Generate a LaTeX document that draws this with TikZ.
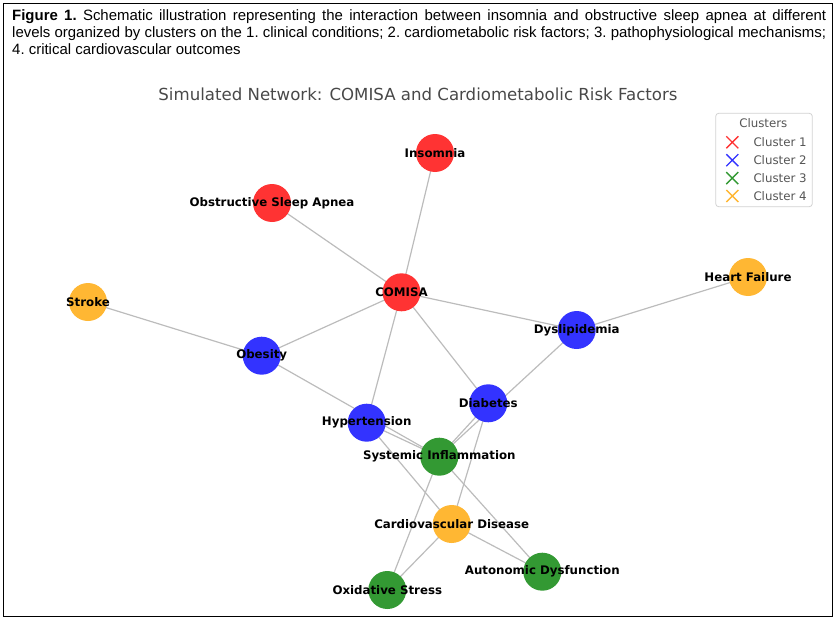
\documentclass[tikz,border=0pt]{standalone}
\usepackage{fontspec}
\setmainfont{Liberation Sans}
\newfontfamily\dv{DejaVu Sans}
\usetikzlibrary{backgrounds}
\definecolor{cred}{RGB}{255,51,51}
\definecolor{cblue}{RGB}{51,51,255}
\definecolor{cgreen}{RGB}{51,153,51}
\definecolor{corange}{RGB}{255,183,51}
\definecolor{edgegray}{RGB}{188,188,188}
\definecolor{titlegray}{RGB}{72,72,72}
\definecolor{leggray}{RGB}{85,85,85}
\definecolor{legborder}{RGB}{210,210,210}
\tikzset{
  vert/.style={circle, minimum size=38pt, inner sep=0pt, draw=none},
  c1/.style={vert, fill=cred},
  c2/.style={vert, fill=cblue},
  c3/.style={vert, fill=cgreen},
  c4/.style={vert, fill=corange},
  lbl/.style={font=\dv\bfseries\fontsize{11.8}{13}\selectfont, text=black, inner sep=0pt},
  link/.style={draw=edgegray, line width=1.2pt},
  xmark/.style={line width=1.4pt},
  legtext/.style={font=\dv\fontsize{11.8}{13}\selectfont, text=leggray, anchor=west, inner sep=0pt},
}
\begin{document}
\begin{tikzpicture}[x=1pt,y=-1pt]
\useasboundingbox (0,0) rectangle (836,621);
\draw[line width=1.4pt] (3.5,3.2) rectangle (832.5,616.5);
% caption
\node[anchor=north west, inner sep=0pt, text width=814pt, align=justify, font=\fontsize{14.95}{17}\selectfont\frenchspacing] (cap) at (12,9.5)
 {\textbf{Figure 1.} Schematic illustration representing the interaction between insomnia and obstructive sleep apnea at different\linebreak levels organized by clusters on the 1. clinical conditions; 2. cardiometabolic risk factors; 3. pathophysiological mechanisms;\linebreak 4. critical cardiovascular outcomes};
% title
\node[font=\dv\fontsize{16.6}{18}\selectfont, text=titlegray, inner sep=0pt] (title) at (418,94) {Simulated Network: COMISA and Cardiometabolic Risk Factors};
% nodes
\node[c1] (ins) at (435,153) {};
\node[c1] (osa) at (272,203) {};
\node[c1] (com) at (401.5,292.3) {};
\node[c4] (str) at (88,302) {};
\node[c4] (hf)  at (748,277) {};
\node[c2] (dys) at (576.7,330) {};
\node[c2] (obe) at (261.7,355.7) {};
\node[c2] (dia) at (488.3,403.3) {};
\node[c2] (hyp) at (366.7,422.7) {};
\node[c3] (si)  at (439.3,456.7) {};
\node[c4] (cvd) at (451.7,524) {};
\node[c3] (ad)  at (542.3,571.7) {};
\node[c3] (os)  at (387.3,590) {};
% edges
\begin{scope}[on background layer]
\foreach \a/\b in {ins/com, osa/com, com/dys, com/obe, com/hyp, com/dia, str/obe, hf/dys, dys/si, obe/si, hyp/si, hyp/cvd, dia/si, dia/cvd, si/os, si/ad, cvd/os, cvd/ad}
  \draw[link] (\a.center) -- (\b.center);
\end{scope}
% labels
\node[lbl] at (ins.center) {Insomnia};
\node[lbl] at (osa.center) {Obstructive Sleep Apnea};
\node[lbl] at (com.center) {COMISA};
\node[lbl] at (str.center) {Stroke};
\node[lbl] at (hf.center) {Heart Failure};
\node[lbl] at (dys.center) {Dyslipidemia};
\node[lbl] at (obe.center) {Obesity};
\node[lbl] at (dia.center) {Diabetes};
\node[lbl] at (hyp.center) {Hypertension};
\node[lbl] at (si.center) {Systemic Inflammation};
\node[lbl] at (cvd.center) {Cardiovascular Disease};
\node[lbl] at (ad.center) {Autonomic Dysfunction};
\node[lbl] at (os.center) {Oxidative Stress};
% legend
\draw[legborder, fill=white, rounded corners=3pt, line width=0.8pt] (715.7,113.3) rectangle (812.3,206.7);
\node[font=\dv\fontsize{11.8}{13}\selectfont, text=leggray, inner sep=0pt] (legt) at (763.3,123.3) {Clusters};
\foreach \c/\y/\t in {cred/142.3/Cluster 1, cblue/160.2/Cluster 2, cgreen/178.1/Cluster 3, corange/196/Cluster 4}{
  \draw[xmark, draw=\c] (726.3,\y-6) -- (738.3,\y+6) (726.3,\y+6) -- (738.3,\y-6);
  \node[legtext] at (753.3,\y) {\t};
}
\end{tikzpicture}
\end{document}
